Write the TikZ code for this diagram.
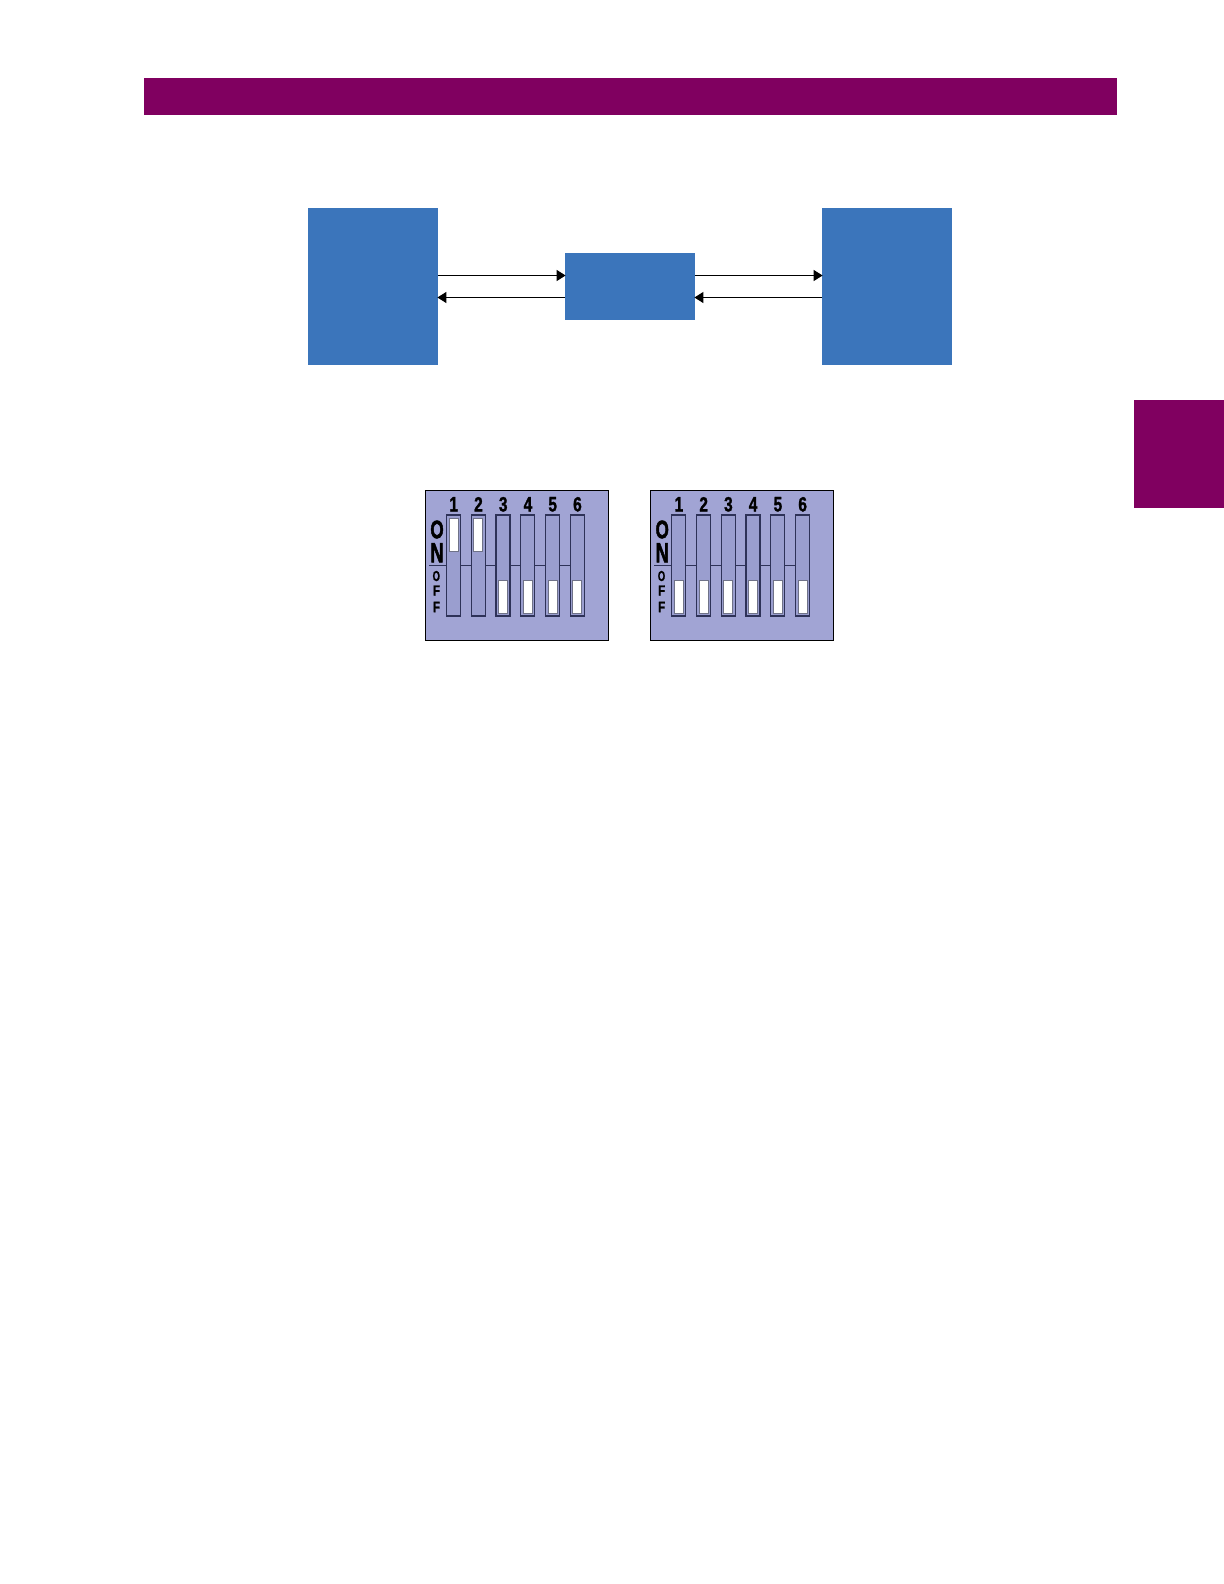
\documentclass[tikz,border=0pt]{standalone}
\usepackage{fontspec}
\usepackage{graphicx}
\setmainfont{Liberation Sans}
\newfontfamily\dipheavy[FakeBold=1.5]{Liberation Sans Bold}
\newfontfamily\dipheavier[FakeBold=2.5]{Liberation Sans Bold}
\usetikzlibrary{arrows.meta}
\definecolor{plum}{HTML}{800060}
\definecolor{boxblue}{HTML}{3B75BB}
\definecolor{dipbg}{HTML}{A1A4D4}
\definecolor{slotbg}{HTML}{9A9ECF}
\definecolor{slotline}{HTML}{2E3258}
\definecolor{winedge}{HTML}{6F7288}
\tikzset{
  x=0.5pt,y=-0.5pt,
  flat/.style={draw=none,inner sep=0pt,outer sep=0pt,anchor=north west},
  blockbox/.style={flat,fill=boxblue,minimum width=65pt,minimum height=#1},
  signal/.style={line width=0.65pt,-{Triangle[length=4.5pt,width=5.5pt]},shorten >=-0.3pt},
  dippanel/.style={flat,fill=dipbg,draw=black,line width=0.55pt,minimum width=91.3pt,minimum height=75pt},
  dipslot/.style={flat,fill=slotbg,draw=slotline,line width=0.7pt,minimum width=7pt,minimum height=50.5pt},
  dipwin/.style={flat,fill=white,draw=winedge,line width=0.5pt,minimum width=4.5pt,minimum height=16.3pt},
  dipline/.style={draw=slotline,line width=0.5pt},
  diptext/.style={inner sep=0pt,outer sep=0pt,text=black}
}
\newcommand{\dipglyph}[3]{\resizebox{#1pt}{#2pt}{\dipheavy #3}}
\newcommand{\dipbigglyph}[3]{\resizebox{#1pt}{#2pt}{\dipheavier #3}}
% #1 prefix, #2 x offset, #3 list of switches that are on
\newcommand{\dipswitch}[3]{%
  \node[dippanel] (#1panel) at (425.5+#2,490.5) {};
  \coordinate (#1ls) at (429+#2,565.4);
  \coordinate (#1le) at (571+#2,565.4);
  \draw[dipline] (#1ls) -- (#1le);
  \node[diptext] (#1on) at (437+#2,529.5) {\dipbigglyph{6.6}{8.8}{O}};
  \node[diptext] (#1nn) at (437+#2,552.7) {\dipbigglyph{6.6}{9.6}{N}};
  \node[diptext] (#1of) at (436.3+#2,576) {\dipglyph{3.7}{5}{O}};
  \node[diptext] (#1ff) at (436.5+#2,590.5) {\dipglyph{3.5}{5}{F}};
  \node[diptext] (#1fg) at (436.5+#2,607) {\dipglyph{3.5}{5.2}{F}};
  \foreach \i in {1,...,6}{%
    \pgfmathsetmacro{\sx}{446.5+(\i-1)*24.75+#2}
    \node[dipslot] (#1slot\i) at (\sx,515) {};
    \node[diptext] (#1num\i) at (\sx+7.2,504.3) {\dipglyph{4.3}{7.2}{\i}};
    \def\wy{580.7}
    \foreach \j in {#3}{\ifnum\j=\i\xdef\wy{518.7}\fi}
    \node[dipwin] (#1win\i) at (\sx+2.7,\wy) {};
    \gdef\wy{580.7}
  }%
}
\begin{document}
\begin{tikzpicture}
\useasboundingbox (0,0) rectangle (1224,1584);
\fill[white] (0,0) rectangle (1224,1584);
\node[flat,fill=plum,minimum width=486.5pt,minimum height=18.5pt] (topbar) at (144,78) {};
\node[flat,fill=plum,minimum width=45.5pt,minimum height=54pt] (sidetab) at (1133.5,400) {};
\node[blockbox=78.5pt] (leftblock) at (308,208) {};
\node[blockbox=33.5pt] (midblock) at (565,253) {};
\node[blockbox=78.5pt] (rightblock) at (822,208) {};
\coordinate (upper) at (0,275.5);
\coordinate (lower) at (0,297.5);
\draw[signal] (leftblock.east |- upper) -- (midblock.west |- upper);
\draw[signal] (midblock.west |- lower) -- (leftblock.east |- lower);
\draw[signal] (midblock.east |- upper) -- (rightblock.west |- upper);
\draw[signal] (rightblock.west |- lower) -- (midblock.east |- lower);
\dipswitch{a}{0}{1,2}
\dipswitch{b}{225.2}{0}
\end{tikzpicture}
\end{document}
